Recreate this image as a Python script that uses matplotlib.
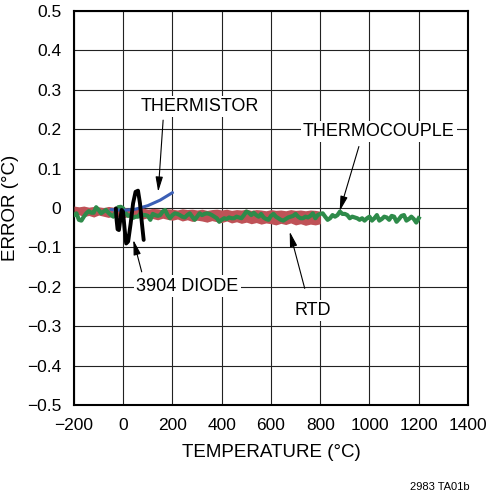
import numpy as np
import matplotlib
matplotlib.use("Agg")
from matplotlib import pyplot as plt

plt.rcParams.update({"font.family": ["Liberation Sans Narrow", "Liberation Sans", "DejaVu Sans"]})

# thermocouple, sampled every 10 degC from -200 to 1200
tc_temp = np.arange(-200, 1210, 10)
tc_err = [
    -0.018, -0.0135, -0.030, -0.032, -0.022, -0.0135, -0.008, -0.012, -0.012, 0.002,
    -0.005, -0.0135, -0.009, -0.005, -0.012, -0.018, -0.022, -0.009, 0.002, 0.003,
    -0.001, -0.0135, -0.020, -0.018, -0.025, -0.022, -0.022, -0.0135, -0.018, -0.018,
    -0.020, -0.030, -0.015, -0.018, -0.020, -0.018, -0.009, -0.005, -0.018, -0.026,
    -0.018, -0.0135, -0.015, -0.018, -0.022, -0.024, -0.018, -0.0135, -0.022, -0.030,
    -0.022, -0.0135, -0.018, -0.015, -0.0135, -0.015, -0.018, -0.022, -0.026, -0.035,
    -0.030, -0.026, -0.028, -0.024, -0.026, -0.026, -0.022, -0.024, -0.026, -0.018,
    -0.009, -0.012, -0.018, -0.012, -0.018, -0.022, -0.015, -0.024, -0.028, -0.030,
    -0.020, -0.015, -0.022, -0.026, -0.030, -0.032, -0.028, -0.024, -0.022, -0.020,
    -0.015, -0.022, -0.026, -0.026, -0.022, -0.024, -0.020, -0.0135, -0.026, -0.018,
    -0.015, -0.0135, -0.022, -0.030, -0.026, -0.018, -0.022, -0.018, -0.009, -0.015,
    -0.015, -0.018, -0.026, -0.022, -0.024, -0.026, -0.030, -0.026, -0.032, -0.026,
    -0.022, -0.032, -0.026, -0.018, -0.032, -0.028, -0.022, -0.024, -0.030, -0.020,
    -0.022, -0.035, -0.028, -0.020, -0.018, -0.032, -0.028, -0.022, -0.028, -0.037,
    -0.026,
]

# RTD noise band (upper / lower envelope), every 20 degC from -200 to 800
rtd_temp = np.arange(-200, 820, 20)
rtd_hi = [
    0.005, 0.003, 0.005, 0.002, 0.004, 0.003, 0.001, 0.004, 0.002, 0.000,
    0.002, -0.001, 0.001, -0.002, 0.000, -0.003, -0.001, -0.002, -0.004, -0.002,
    -0.003, -0.005, -0.002, -0.004, -0.003, -0.005, -0.003, -0.006, -0.004, -0.003,
    -0.005, -0.003, -0.006, -0.004, -0.005, -0.003, -0.006, -0.004, -0.005, -0.007,
    -0.004, -0.006, -0.005, -0.007, -0.004, -0.006, -0.005, -0.007, -0.005, -0.006,
    -0.008,
]
rtd_lo = [
    -0.020, -0.017, -0.022, -0.019, -0.023, -0.018, -0.021, -0.024, -0.020, -0.023,
    -0.025, -0.022, -0.026, -0.024, -0.028, -0.025, -0.027, -0.030, -0.026, -0.029,
    -0.031, -0.028, -0.033, -0.030, -0.034, -0.031, -0.033, -0.036, -0.032, -0.035,
    -0.037, -0.033, -0.038, -0.035, -0.039, -0.036, -0.040, -0.037, -0.041, -0.038,
    -0.040, -0.043, -0.039, -0.042, -0.038, -0.043, -0.040, -0.044, -0.041, -0.043,
    -0.040,
]

# thermistor
thm_temp = [-50, 0, 50, 100, 150, 200]
thm_err = [-0.004, -0.006, -0.003, 0.006, 0.020, 0.039]

# 3904 diode
dio_temp = [-30, -27, -23, -17.5, -12, -6.5, -1, 6, 12, 20, 30, 40, 50, 60, 68, 76, 83]
dio_err = [-0.001, -0.030, -0.054, -0.056, -0.030, -0.005, -0.009, -0.056, -0.090,
           -0.085, -0.040, 0.012, 0.041, 0.044, 0.012, -0.040, -0.081]

x_ticks = [-200, 0, 200, 400, 600, 800, 1000, 1200, 1400]
y_ticks = [-0.5, -0.4, -0.3, -0.2, -0.1, 0, 0.1, 0.2, 0.3, 0.4, 0.5]

fig = plt.figure(figsize=(4.89, 5.0), dpi=100)
ax = fig.add_axes([0.1513, 0.19, 0.8057, 0.788])

ax.fill_between(rtd_temp, rtd_lo, rtd_hi, color="#bf5257", lw=0, zorder=3)
ax.plot(tc_temp, tc_err, color="#2e8b4a", lw=3.0, zorder=4, solid_joinstyle="round")
ax.plot(thm_temp, thm_err, color="#3b5fb5", lw=2.2, zorder=5, solid_capstyle="round")
ax.plot(dio_temp, dio_err, color="black", lw=2.8, zorder=6,
        solid_joinstyle="round", solid_capstyle="round")

ax.set_xlim(-200, 1400)
ax.set_ylim(-0.5, 0.5)
ax.set_xticks(x_ticks)
ax.set_yticks(y_ticks)
ax.set_yticklabels(["{:.1f}".format(v).replace("-", "\u2212") if v != 0 else "0" for v in y_ticks])
ax.tick_params(length=0, labelsize=12.5, pad=9)
ax.grid(True, color="#222222", lw=0.8, zorder=1)
ax.set_axisbelow(True)
for s in ax.spines.values():
    s.set_linewidth(1.5)
ax.set_xlabel("TEMPERATURE (\u00b0C)", fontsize=13.5, labelpad=8)
ax.set_ylabel("ERROR (\u00b0C)", fontsize=13.5, labelpad=6)

box = dict(facecolor="white", edgecolor="none", pad=1.5)
arrow = dict(arrowstyle="-|>,head_length=0.9,head_width=0.22", color="black",
             lw=0.8, shrinkA=0, shrinkB=0)
ax.text(313, 0.258, "THERMISTOR", fontsize=13, ha="center", va="center", bbox=box, zorder=7)
ax.annotate("", xy=(142, 0.041), xytext=(162, 0.223), arrowprops=arrow, zorder=7)
ax.text(1037, 0.194, "THERMOCOUPLE", fontsize=13, ha="center", va="center", bbox=box, zorder=7)
ax.annotate("", xy=(879, -0.008), xytext=(957, 0.156), arrowprops=arrow, zorder=7)
ax.text(260, -0.198, "3904 DIODE", fontsize=13, ha="center", va="center", bbox=box, zorder=7)
ax.annotate("", xy=(41, -0.081), xytext=(75, -0.162), arrowprops=arrow, zorder=7)
ax.text(770, -0.26, "RTD", fontsize=13, ha="center", va="center", bbox=box, zorder=7)
ax.annotate("", xy=(676, -0.06), xytext=(737, -0.204), arrowprops=arrow, zorder=7)

fig.text(0.96, 0.025, "2983 TA01b", fontsize=8, ha="right", va="center")

fig.savefig("out.png", dpi=100)
